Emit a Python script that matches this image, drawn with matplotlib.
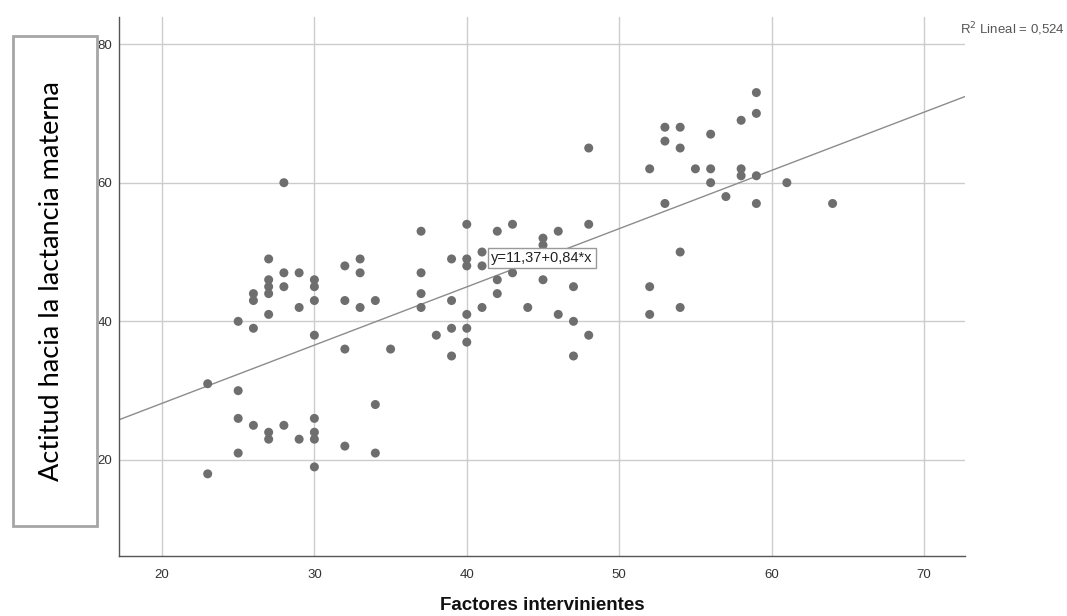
import matplotlib
matplotlib.use("Agg")
import matplotlib.pyplot as plt
from matplotlib.patches import Rectangle

# ===============================
# Data
# ===============================
factores = [
    27, 28, 29, 30, 30, 27, 27, 27, 26, 26, 28, 30, 29, 32, 33, 33, 32, 33, 34, 27,
    25, 26, 30, 32, 35, 23, 25, 34, 25, 26, 28, 27, 27, 29, 30, 30, 30, 32, 25, 34,
    23, 30, 28,
    48, 37, 40, 42, 43, 45, 45, 46, 48, 39, 40, 40, 41, 41, 37, 43, 42, 45, 47, 37,
    42, 39, 37, 41, 44, 40, 46, 47, 39, 40, 38, 48, 40, 39, 47,
    59, 59, 58, 53, 54, 56, 53, 54, 52, 55, 56, 58, 58, 59, 56, 61, 57, 53, 59, 64,
    54, 52, 54, 52,
]
actitud = [
    49, 47, 47, 46, 45, 46, 45, 44, 44, 43, 45, 43, 42, 48, 49, 47, 43, 42, 43, 41,
    40, 39, 38, 36, 36, 31, 30, 28, 26, 25, 25, 24, 23, 23, 26, 24, 23, 22, 21, 21,
    18, 19, 60,
    65, 53, 54, 53, 54, 52, 51, 53, 54, 49, 49, 48, 50, 48, 47, 47, 46, 46, 45, 44,
    44, 43, 42, 42, 42, 41, 41, 40, 39, 39, 38, 38, 37, 35, 35,
    73, 70, 69, 68, 68, 67, 66, 65, 62, 62, 62, 62, 61, 61, 60, 60, 58, 57, 57, 57,
    50, 45, 42, 41,
]

intercept = 11.37
slope = 0.84
r2 = "0,524"
x_ticks = [20, 30, 40, 50, 60, 70]
y_ticks = [20, 40, 60, 80]

TICK_FONT = "Liberation Sans"

# ===============================
# Figure
# ===============================
fig = plt.figure(figsize=(10.67, 6.16), dpi=100)
ax = fig.add_axes([0.1118, 0.0974, 0.7922, 0.875])

ax.set_xlim(17.2, 72.66)
ax.set_ylim(6.15, 83.9)

ax.set_xticks(x_ticks)
ax.set_yticks(y_ticks)
ax.grid(True, color="#cccccc", linewidth=1.0)
ax.set_axisbelow(True)

for side in ["top", "right"]:
    ax.spines[side].set_visible(False)
for side in ["left", "bottom"]:
    ax.spines[side].set_color("#555555")
    ax.spines[side].set_linewidth(1.0)

ax.tick_params(axis="both", length=0, labelsize=9.5, labelcolor="#333333")
ax.tick_params(axis="x", pad=9)
ax.tick_params(axis="y", pad=5)
for lab in ax.get_xticklabels() + ax.get_yticklabels():
    lab.set_family(TICK_FONT)

# fit line
xl = ax.get_xlim()
ax.plot(xl, [intercept + slope * v for v in xl], color="#8c8c8c", linewidth=1.0, zorder=2)

# points
ax.scatter(factores, actitud, s=42, color="#6e6e6e", edgecolors="none", zorder=3)

# equation label
ax.text(44.93, 49.15, "y=11,37+0,84*x", fontsize=10.5, family=TICK_FONT, color="#222222",
        ha="center", va="center", zorder=4,
        bbox=dict(boxstyle="square,pad=0.2", facecolor="white", edgecolor="#999999", linewidth=1))

# R2 text, top right
fig.text(0.9, 0.952, "R$^2$ Lineal = " + r2, fontsize=9.5, family=TICK_FONT, color="#555555",
         ha="left", va="center")

# x label
ax.set_xlabel("Factores intervinientes", fontsize=13.5, fontweight="bold",
              family=TICK_FONT, labelpad=12, color="#111111")

# y label in a framed box
fig.patches.append(Rectangle((12.5 / 1067, 1 - 526 / 616), 84 / 1067, 490 / 616,
                             transform=fig.transFigure, fill=False,
                             edgecolor="#a6a6a6", linewidth=2))
fig.text(52 / 1067, 1 - 281 / 616, "Actitud hacia la lactancia materna", rotation=90,
         fontsize=19.5, family=["Lato", "DejaVu Sans"], color="black",
         ha="center", va="center")

fig.savefig("out.png", dpi=100)
print("saved out.png")
